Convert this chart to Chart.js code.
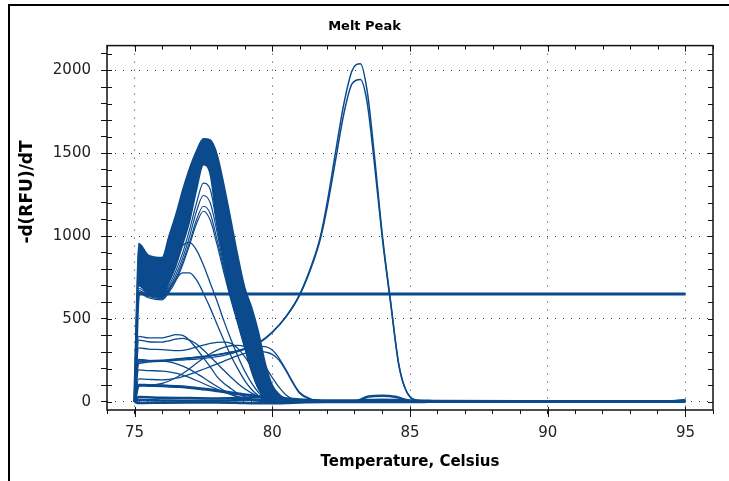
<!DOCTYPE html>
<html><head><meta charset="utf-8">
<script src="https://cdn.jsdelivr.net/npm/chart.js@4.4.1/dist/chart.umd.min.js"></script>
<style>
html,body{margin:0;padding:0;background:#fff;}
#wrap{position:relative;width:729px;height:481px;overflow:hidden;}
#c{display:block;}
#frame{position:absolute;left:8px;top:4px;width:760px;height:520px;border-left:2px solid #000;border-top:2px solid #000;pointer-events:none;}
</style></head><body>
<div id="wrap"><canvas id="c" width="729" height="481"></canvas><div id="frame"></div></div>
<script>
// ---- text ----
const TITLE = 'Melt Peak';
const X_TITLE = 'Temperature, Celsius';
const Y_TITLE = '-d(RFU)/dT';
const xTickLabels = [75, 80, 85, 90, 95];
const yTickLabels = [0, 500, 1000, 1500, 2000];

// ---- main cluster (peak ~77.6 C) ----
const clusterT = [75, 75.15, 75.5, 76, 76.25, 76.5, 76.75, 77, 77.25, 77.5, 77.75, 78, 78.25, 78.5, 78.75, 79, 79.25, 79.5, 79.75, 80, 80.25, 80.5, 80.75, 81, 81.5];
const bandOuter = [40, 955, 885, 870, 1000, 1130, 1280, 1410, 1515, 1588, 1580, 1490, 1305, 1095, 880, 690, 570, 420, 230, 100, 45, 15, 5, 0, 0];
const bandInner = [20, 700, 655, 640, 720, 820, 950, 1090, 1280, 1430, 1370, 1060, 850, 650, 515, 355, 205, 88, 28, 8, 2, 0, 0, 0, 0];
const inner1 = [20, 685, 650, 635, 700, 790, 900, 1040, 1200, 1320, 1280, 1060, 840, 645, 500, 340, 195, 82, 25, 6, 0, 0, 0, 0, 0];
const inner2 = [20, 672, 642, 630, 685, 765, 870, 1000, 1150, 1245, 1200, 1020, 815, 635, 490, 335, 190, 80, 24, 6, 0, 0, 0, 0, 0];
const inner3 = [20, 662, 635, 622, 670, 745, 845, 965, 1100, 1180, 1135, 975, 795, 625, 480, 330, 185, 78, 22, 5, 0, 0, 0, 0, 0];
const inner4 = [20, 655, 628, 615, 660, 730, 828, 948, 1075, 1150, 1095, 945, 775, 615, 470, 322, 180, 75, 22, 5, 0, 0, 0, 0, 0];
const mid1 = [0, 705, 680, 700, 780, 880, 945, 962, 915, 825, 715, 605, 485, 375, 275, 185, 112, 56, 22, 6, 0, 0, 0, 0, 0];
const mid2 = [0, 662, 640, 630, 680, 740, 778, 778, 735, 655, 565, 465, 368, 278, 198, 128, 74, 36, 12, 3, 0, 0, 0, 0, 0];
// ---- low curves ----
const low1 = [0, 395, 385, 385, 395, 405, 400, 370, 320, 265, 210, 150, 110, 80, 50, 30, 15, 6, 2, 0, 0, 0, 0, 0, 0];
const low2 = [0, 372, 362, 360, 368, 378, 382, 372, 348, 312, 272, 230, 188, 148, 110, 78, 52, 31, 16, 7, 2, 0, 0, 0, 0];
const low3 = [0, 325, 318, 315, 312, 308, 310, 318, 330, 342, 352, 358, 360, 352, 322, 272, 208, 142, 86, 46, 20, 8, 2, 0, 0];
const low4 = [0, 252, 248, 245, 246, 250, 252, 255, 258, 262, 266, 272, 280, 290, 303, 316, 328, 334, 332, 312, 262, 192, 118, 56, 8];
const low5 = [0, 192, 188, 185, 180, 172, 160, 145, 128, 110, 92, 75, 58, 43, 30, 20, 12, 6, 2, 0, 0, 0, 0, 0, 0];
const low6 = [0, 138, 135, 132, 135, 142, 152, 165, 180, 196, 212, 228, 245, 262, 278, 292, 302, 306, 300, 286, 250, 186, 112, 50, 5];
const low7 = [0, 100, 98, 96, 94, 92, 90, 86, 82, 77, 72, 66, 60, 54, 48, 42, 37, 32, 28, 24, 20, 15, 11, 8, 3];
const low8 = [0, 96, 100, 110, 125, 145, 170, 200, 232, 262, 290, 312, 328, 338, 340, 332, 310, 272, 212, 146, 86, 40, 15, 4, 0];
const low9 = [0, 255, 250, 246, 240, 230, 215, 195, 170, 145, 118, 92, 68, 47, 30, 17, 8, 3, 0, 0, 0, 0, 0, 0, 0];

// ---- second product (peak ~83.2 C) ----
const peakT = [75, 75.15, 76, 76.5, 77, 78, 79, 79.5, 80, 80.5, 81, 81.5, 81.75, 82, 82.3, 82.6, 82.9, 83.2, 83.45, 83.7, 84, 84.3, 84.6, 85, 85.4, 86, 95];
const peakA = [0, 240, 250, 258, 265, 285, 320, 355, 420, 515, 650, 860, 1000, 1210, 1510, 1800, 2000, 2040, 1870, 1500, 1000, 600, 220, 30, 5, 0, 0];
const peakB = [0, 230, 245, 255, 262, 283, 318, 352, 418, 512, 645, 850, 985, 1180, 1460, 1740, 1920, 1945, 1800, 1450, 980, 590, 215, 30, 5, 0, 0];

// ---- flat line and baseline ----
const flatT = [75, 75.15, 95];
const flatV = [0, 650, 650];
const baseT = [75, 75.15, 76, 77, 78, 79, 80, 80.5, 81, 82, 83, 83.5, 84, 84.5, 85, 85.5, 86, 90, 94.5, 95];
const base1 = [0, 28, 24, 22, 20, 24, 28, 20, 14, 8, 8, 10, 12, 10, 8, 6, 4, 3, 3, 10];
const base2 = [0, 10, 8, 6, 6, 10, 12, 6, 4, 2, 3, 32, 36, 28, 5, 2, 1, 1, 1, 6];
const base3 = [0, -8, -6, -5, -5, -8, -10, -8, -4, -2, -2, -2, -2, -2, -2, -1, 0, 0, 0, 0];

const BLUE = '#0b4a8c';
const AXIS = '#111';
const X_MIN = 74, X_MAX = 96, X_STEP = 1;
const Y_MIN = -50, Y_MAX = 2150, Y_STEP = 100;

const stepTicks = (lo, hi, step) => {
  const out = [];
  for (let v = Math.ceil(lo / step) * step; v <= hi; v += step) out.push({value: v});
  return out;
};

const pts = (ts, vs) => ts.map((t, i) => ({x: t, y: vs[i]}));
const line = (ts, vs, w, extra) => Object.assign({
  data: pts(ts, vs), borderColor: BLUE, backgroundColor: BLUE, borderWidth: w,
  pointRadius: 0, fill: false, cubicInterpolationMode: 'monotone'
}, extra || {});

const datasets = [
  line(clusterT, bandOuter, 1.5),
  line(clusterT, bandInner, 1.5, {fill: '-1'}),
  line(clusterT, inner1, 1.2), line(clusterT, inner2, 1.2),
  line(clusterT, inner3, 1.2), line(clusterT, inner4, 1.2),
  line(clusterT, mid1, 1.3), line(clusterT, mid2, 1.3),
  line(clusterT, low1, 1.3), line(clusterT, low2, 1.3), line(clusterT, low3, 1.3),
  line(clusterT, low4, 1.3), line(clusterT, low5, 1.3), line(clusterT, low6, 1.3),
  line(clusterT, low7, 3), line(clusterT, low8, 1.3), line(clusterT, low9, 1.3),
  line(peakT, peakA, 1.5), line(peakT, peakB, 1.5),
  line(flatT, flatV, 3),
  line(baseT, base1, 2.5), line(baseT, base2, 2.5), line(baseT, base3, 2.5)
];

const axisFrame = {
  id: 'axisFrame',
  afterDraw(chart) {
    const {ctx, chartArea: a, scales} = chart;
    const xs = scales.x, ys = scales.y;
    ctx.save();
    ctx.strokeStyle = AXIS;
    ctx.lineWidth = 1.5;
    ctx.strokeRect(a.left, a.top, a.right - a.left, a.bottom - a.top);
    ctx.lineWidth = 1;
    ctx.beginPath();
    xs.ticks.forEach(t => {
      const p = Math.round(xs.getPixelForValue(t.value)) + 0.5;
      const major = xTickLabels.includes(t.value);
      ctx.moveTo(p, a.top); ctx.lineTo(p, a.top + (major ? 6 : 4));
      if (major) { ctx.moveTo(p, a.bottom - 3); ctx.lineTo(p, a.bottom + 7); }
    });
    ys.ticks.forEach(t => {
      const p = Math.round(ys.getPixelForValue(t.value)) + 0.5;
      ctx.moveTo(a.right, p); ctx.lineTo(a.right - 5, p);
      ctx.moveTo(a.left, p); ctx.lineTo(a.left + 5, p);
    });
    ctx.stroke();
    ctx.fillStyle = '#000';
    ctx.font = 'bold 17px "DejaVu Sans"';
    ctx.textAlign = 'center';
    ctx.textBaseline = 'middle';
    ctx.translate(28, 192);
    ctx.rotate(-Math.PI / 2);
    ctx.fillText(Y_TITLE, 0, 0);
    ctx.restore();
  }
};

new Chart(document.getElementById('c'), {
  type: 'line',
  data: {datasets},
  plugins: [axisFrame],
  options: {
    responsive: false,
    animation: false,
    events: [],
    layout: {padding: {left: 16, right: 16, top: 0, bottom: 0}},
    plugins: {
      legend: {display: false},
      tooltip: {enabled: false},
      title: {
        display: true, text: TITLE, color: '#000',
        font: {family: 'DejaVu Sans', weight: 'bold', size: 13},
        padding: {top: 19, bottom: 11}
      }
    },
    scales: {
      x: {
        type: 'linear', min: X_MIN, max: X_MAX,
        afterFit: s => { s.height = 71; },
        afterBuildTicks: s => { s.ticks = stepTicks(X_MIN, X_MAX, X_STEP); },
        ticks: {
          autoSkip: false, maxRotation: 0, padding: 10,
          color: '#222', font: {family: 'DejaVu Sans', size: 15},
          callback: v => xTickLabels.includes(v) ? String(v) : ''
        },
        grid: {
          drawOnChartArea: true, drawTicks: true, tickLength: 4, lineWidth: 1, tickWidth: 1,
          color: c => (c.tick && xTickLabels.includes(c.tick.value)) ? '#333' : 'rgba(0,0,0,0)',
          tickColor: AXIS
        },
        border: {display: false, dash: [1, 7]},
        title: {
          display: true, text: X_TITLE, color: '#000',
          font: {family: 'DejaVu Sans', weight: 'bold', size: 15},
          padding: {top: 0, bottom: 10}
        }
      },
      y: {
        type: 'linear', min: Y_MIN, max: Y_MAX,
        afterFit: s => { s.width = 91; },
        afterBuildTicks: s => { s.ticks = stepTicks(Y_MIN, Y_MAX, Y_STEP); },
        ticks: {
          autoSkip: false, padding: 10,
          color: '#222', font: {family: 'DejaVu Sans', size: 15},
          callback: v => yTickLabels.includes(v) ? String(v) : ''
        },
        grid: {
          drawOnChartArea: true, drawTicks: true, tickLength: 6, lineWidth: 1, tickWidth: 1,
          color: c => (c.tick && yTickLabels.includes(c.tick.value)) ? '#333' : 'rgba(0,0,0,0)',
          tickColor: AXIS
        },
        border: {display: false, dash: [1, 7]}
      }
    }
  }
});
</script></body></html>
